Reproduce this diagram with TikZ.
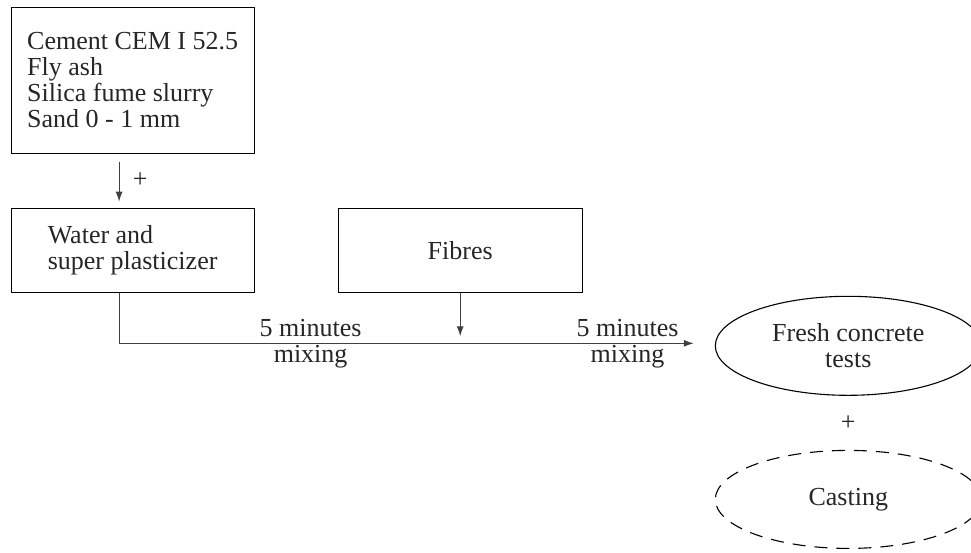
\documentclass[tikz,border=0pt]{standalone}
\usepackage{fontspec}
\setmainfont{Liberation Serif}
\usetikzlibrary{shapes.geometric, arrows.meta}

\begin{document}
\begin{tikzpicture}[x=1pt, y=-1pt, color=black!75, line width=1.1pt,
  >={Latex[length=10pt, width=7pt]},
  every node/.style={font=\fontsize{26}{26}\selectfont, text=black!85},
  mixlabel/.style={align=center, inner sep=0pt}]
\useasboundingbox (0,0) rectangle (971,552);
\matrix (m) [anchor=north west, inner sep=0pt, column sep=83pt, row sep=3pt] at (10,6) {
  \node (cem) [draw, shape=rectangle, minimum width=243pt, minimum height=146pt, align=left]
    {Cement CEM I 52.5\\Fly ash\\Silica fume slurry\\Sand 0 - 1 mm}; \\[51pt]
  \node (wat) [draw, shape=rectangle, minimum width=243pt, minimum height=84pt, align=left]
    {Water and\\super plasticizer}; &
  \node (fib) [draw, shape=rectangle, minimum width=244pt, minimum height=84pt] {Fibres}; \\
  & &[49pt]
  \node (fct) [draw, shape=ellipse, minimum width=266pt, minimum height=99pt, align=center]
    {Fresh concrete\\tests}; \\[51pt]
  & &
  \node (cst) [draw, shape=ellipse, dash pattern=on 13pt off 9pt, minimum width=266pt, minimum height=98pt]
    {Casting}; \\
};
% feed line runs left of the box centres, a little above the ellipse centre
\coordinate (bend) at ([xshift=-13.5pt, yshift=2.5pt]wat.south |- fct.west);
\draw[->, shorten <=8pt, shorten >=6pt] ([xshift=-13.5pt]cem.south) -- node (plus1) [right, xshift=10pt] {+} ([xshift=-13.5pt]wat.north);
\draw[->, shorten >=21pt] ([xshift=-13.5pt]wat.south) -- (bend)
  -- node (mix1) [mixlabel, pos=0.3215] {5 minutes\\mixing}
     node (mix2) [mixlabel, pos=0.8535] {5 minutes\\mixing} ([yshift=2.5pt]fct.west);
\draw[->, shorten >=7pt] (fib.south) -- (fib.south |- bend);
\path (fct) -- node (plus2) {+} (cst);
\end{tikzpicture}
\end{document}
